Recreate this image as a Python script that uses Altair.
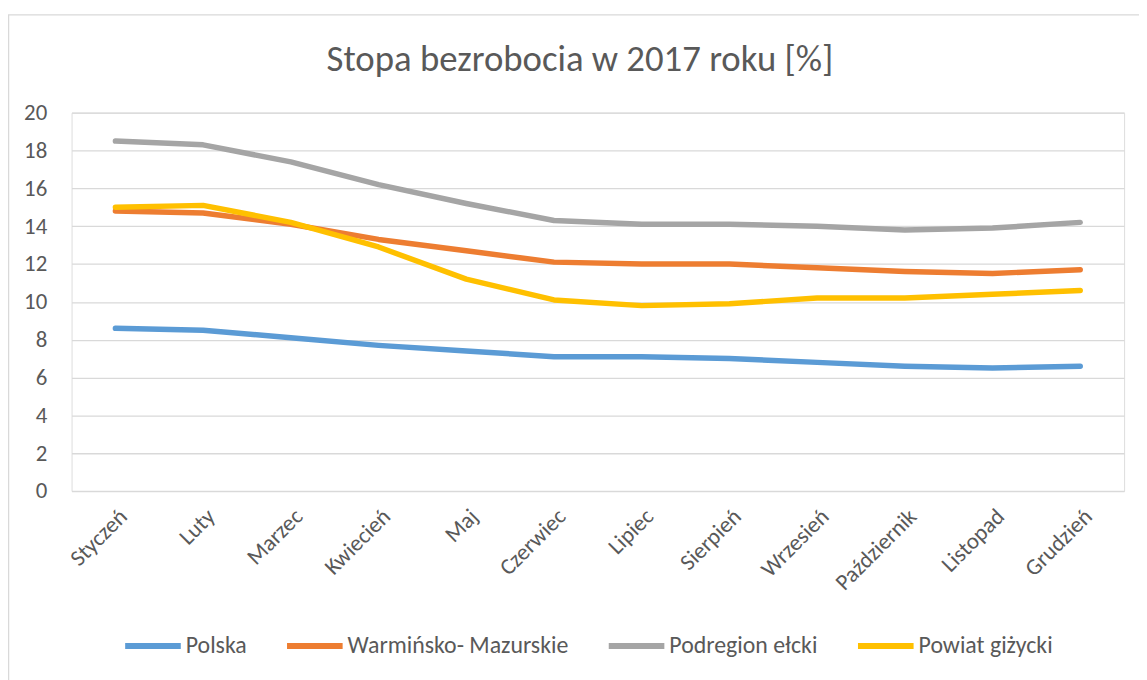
import altair as alt
import pandas as pd

months = ["Styczeń", "Luty", "Marzec", "Kwiecień", "Maj", "Czerwiec", "Lipiec",
          "Sierpień", "Wrzesień", "Październik", "Listopad", "Grudzień"]
series_names = ["Polska", "Warmińsko- Mazurskie", "Podregion ełcki", "Powiat giżycki"]
polska = [8.6, 8.5, 8.1, 7.7, 7.4, 7.1, 7.1, 7.0, 6.8, 6.6, 6.5, 6.6]
warm_maz = [14.8, 14.7, 14.1, 13.3, 12.7, 12.1, 12.0, 12.0, 11.8, 11.6, 11.5, 11.7]
podregion = [18.5, 18.3, 17.4, 16.2, 15.2, 14.3, 14.1, 14.1, 14.0, 13.8, 13.9, 14.2]
powiat = [15.0, 15.1, 14.2, 12.9, 11.2, 10.1, 9.8, 9.9, 10.2, 10.2, 10.4, 10.6]
colors = ["#5B9BD5", "#ED7D31", "#A5A5A5", "#FFC000"]
y_ticks = [0, 2, 4, 6, 8, 10, 12, 14, 16, 18, 20]
title_text = "Stopa bezrobocia w 2017 roku [%]"

rows = []
for name, vals in zip(series_names, [polska, warm_maz, podregion, powiat]):
    for m, v in zip(months, vals):
        rows.append({"month": m, "value": v, "series": name})
df = pd.DataFrame(rows)

FONT = "Carlito, Lato, sans-serif"
TXT = "#595959"
W, H = 1060, 381
LBL = 23

lines = alt.Chart(df).mark_line(strokeWidth=5.5, strokeCap="round", strokeJoin="round").encode(
    x=alt.X("month:N", sort=months, scale=alt.Scale(type="point", padding=0.5),
            axis=alt.Axis(title=None, labelAngle=-45, labelFontSize=LBL, labelColor=TXT,
                          labelFont=FONT, domain=False, ticks=False, grid=False,
                          labelPadding=14)),
    y=alt.Y("value:Q", scale=alt.Scale(domain=[0, 20], nice=False),
            axis=alt.Axis(title=None, values=y_ticks, labelFontSize=LBL, labelColor=TXT,
                          labelFont=FONT, domain=False, ticks=False, gridColor="#D9D9D9",
                          gridWidth=1.3, labelPadding=25)),
    color=alt.Color("series:N", sort=series_names,
                    scale=alt.Scale(domain=series_names, range=colors),
                    legend=alt.Legend(title=None, orient="none", direction="horizontal",
                                      legendX=51, legendY=506, symbolType="stroke",
                                      symbolSize=3136, symbolStrokeWidth=6,
                                      labelFontSize=24, labelColor=TXT, labelFont=FONT,
                                      labelOffset=2, columnPadding=28, symbolOffset=0,
                                      labelLimit=400)),
    order=alt.value(0),
)

title = alt.Chart(pd.DataFrame({"t": [title_text]})).mark_text(
    fontSize=37, font=FONT, color=TXT, align="center", baseline="alphabetic"
).encode(text="t:N", x=alt.value(512), y=alt.value(-42))

border = alt.Chart(pd.DataFrame({"a": [0]})).mark_rect(
    fill=None, stroke="#D9D9D9", strokeWidth=1.5, clip=False
).encode(x=alt.value(-63.5), x2=alt.value(1200), y=alt.value(-98.5), y2=alt.value(700))

chart = alt.layer(border, lines, title).properties(
    width=W, height=H,
    autosize=alt.AutoSizeParams(type="none"),
    padding={"left": 64, "top": 103, "right": 15, "bottom": 200},
).configure_view(stroke=None).configure(background="white")

chart.save("out.html", embed_options={"renderer": "svg", "actions": False})
